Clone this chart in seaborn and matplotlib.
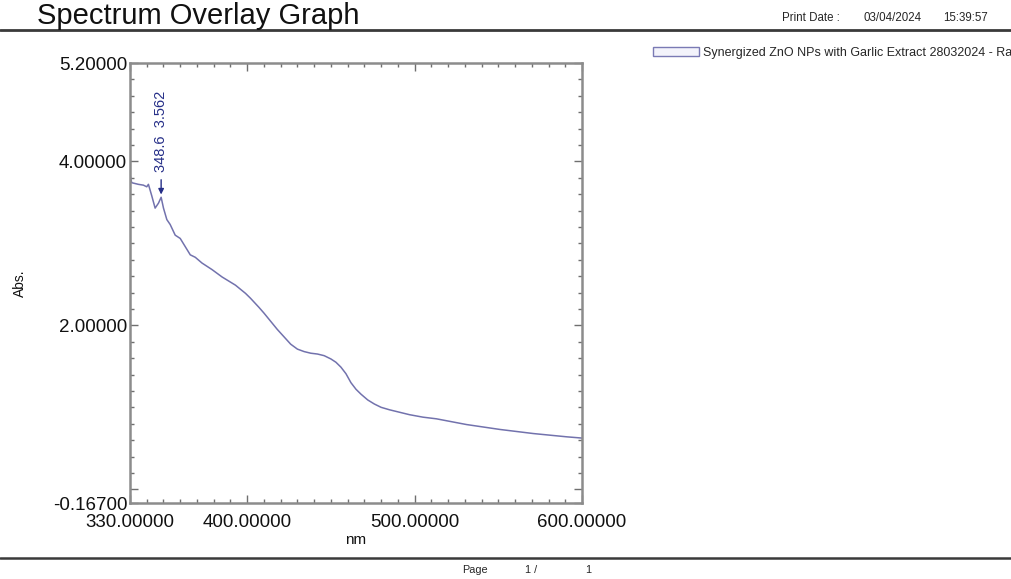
import numpy as np
import pandas as pd
import matplotlib
matplotlib.use("Agg")
import matplotlib.pyplot as plt
import seaborn as sns
from matplotlib.ticker import FixedLocator, MultipleLocator
from matplotlib.patches import Patch
from matplotlib.lines import Line2D

# ---------------- data ----------------
wavelength = [330, 331, 333, 335, 338, 340, 341, 343, 345, 347, 348.6, 350, 352, 354,
              357, 360, 363, 366, 369, 373, 379, 385, 393, 399, 402, 407, 410, 414,
              418, 422, 426, 430, 434, 438, 442, 446, 450, 453, 456, 459, 462, 465,
              468, 472, 476, 480, 485, 491, 497, 505, 513, 522, 531, 541, 551, 561,
              571, 581, 591, 600]
absorbance = [3.84, 3.74, 3.73, 3.72, 3.71, 3.69, 3.72, 3.58, 3.43, 3.49, 3.562, 3.43,
              3.29, 3.23, 3.10, 3.06, 2.96, 2.86, 2.83, 2.76, 2.68, 2.59, 2.49, 2.39,
              2.33, 2.22, 2.15, 2.05, 1.95, 1.86, 1.77, 1.71, 1.68, 1.66, 1.65, 1.63,
              1.59, 1.55, 1.49, 1.41, 1.30, 1.22, 1.16, 1.09, 1.04, 1.00, 0.97, 0.94,
              0.91, 0.88, 0.86, 0.825, 0.79, 0.76, 0.73, 0.705, 0.68, 0.66, 0.64, 0.625]
series_name = "Synergized ZnO NPs with Garlic Extract 28032024 - Raw"
peak_nm = 348.6
peak_abs = 3.562
x_ticks = [330, 400, 500, 600]
x_ticklabels = ["330.00000", "400.00000", "500.00000", "600.00000"]
y_ticks = [-0.167, 0.0, 2.0, 4.0, 5.2]
y_ticklabels = ["-0.16700", "", "2.00000", "4.00000", "5.20000"]
title_text = "Spectrum Overlay Graph"
print_date = ["Print Date :", "03/04/2024", "15:39:57"]
page_text = ["Page", "1 /", "1"]

df = pd.DataFrame({"nm": wavelength, "Abs.": absorbance})

# ---------------- style ----------------
sns.set_theme(style="ticks")
plt.rcParams['font.family'] = ['Liberation Sans', 'DejaVu Sans']

W, H = 1012, 579
fig = plt.figure(figsize=(W / 100, H / 100), dpi=100)
fig.patch.set_facecolor("white")

def fx(px):
    return px / W

def fy(py):
    return 1 - py / H

ax = fig.add_axes([fx(130), fy(503), fx(582) - fx(130), fy(63) - fy(503)])
ax.set_facecolor("white")

line_color = "#7272ad"
sns.lineplot(data=df, x="nm", y="Abs.", ax=ax, color=line_color, linewidth=1.1,
             legend=False, estimator=None, sort=False)

ax.set_xlim(330, 600)
ax.set_ylim(-0.167, 5.2)

spine_color = "#8c8c8c"
for s in ax.spines.values():
    s.set_visible(True)
    s.set_color(spine_color)
    s.set_linewidth(1.8)

ax.xaxis.set_major_locator(FixedLocator(x_ticks))
ax.set_xticklabels(x_ticklabels)
ax.xaxis.set_minor_locator(MultipleLocator(10))
ax.yaxis.set_major_locator(FixedLocator(y_ticks))
ax.set_yticklabels(y_ticklabels)
ax.yaxis.set_minor_locator(MultipleLocator(0.2))

ax.tick_params(which="both", direction="in", top=True, right=True,
               color="#6f6f6f", width=1.0)
ax.tick_params(which="major", length=6)
ax.tick_params(which="minor", length=3.2)
ax.tick_params(axis="x", which="major", labelsize=13.5, pad=8, labelcolor="#111111")
ax.tick_params(axis="y", which="major", labelsize=13.5, pad=2, labelcolor="#111111")

ax.set_xlabel("nm", fontsize=11, color="#111111")
ax.set_ylabel("Abs.", fontsize=10, color="#111111")
ax.xaxis.set_label_coords(0.5, -0.068)
ax.yaxis.set_label_coords(-0.228, 0.5)

# peak annotation
ax.annotate(f"{peak_nm}  {peak_abs}", xy=(peak_nm, peak_abs),
            xytext=(0, 18), textcoords="offset points",
            rotation=90, ha="center", va="bottom", fontsize=10.5,
            color="#262f88",
            arrowprops=dict(arrowstyle="-|>", color="#262f88", lw=1.0,
                            mutation_scale=8, shrinkA=3, shrinkB=2))

# legend (the reference page cuts the label at the right edge)
handle = Patch(facecolor="#f3f3fb", edgecolor="#7a7ab4", linewidth=1.0)
fig.legend([handle], [series_name], loc="upper left",
           bbox_to_anchor=(fx(653), fy(47)), frameon=False, fontsize=9,
           handlelength=3.7, handleheight=0.7, handletextpad=0.3,
           borderpad=0, borderaxespad=0)

# header / footer
fig.text(fx(37), fy(24), title_text, fontsize=21, ha="left", va="baseline",
         color="#111111")
fig.add_artist(Line2D([0, 1], [fy(29.5), fy(29.5)], transform=fig.transFigure,
                      color="#3a3a3a", linewidth=2.0))
fig.text(fx(782), fy(18), print_date[0], fontsize=8.3, ha="left", va="center")
fig.text(fx(864), fy(18), print_date[1], fontsize=8.3, ha="left", va="center")
fig.text(fx(943), fy(18), print_date[2], fontsize=8.3, ha="left", va="center")

fig.add_artist(Line2D([0, 1], [fy(558), fy(558)], transform=fig.transFigure,
                      color="#3a3a3a", linewidth=1.8))
fig.text(fx(462), fy(570), page_text[0], fontsize=7.8, ha="left", va="center")
fig.text(fx(525), fy(570), page_text[1], fontsize=7.8, ha="left", va="center")
fig.text(fx(585), fy(570), page_text[2], fontsize=7.8, ha="left", va="center")

fig.savefig("out.png", dpi=100)
